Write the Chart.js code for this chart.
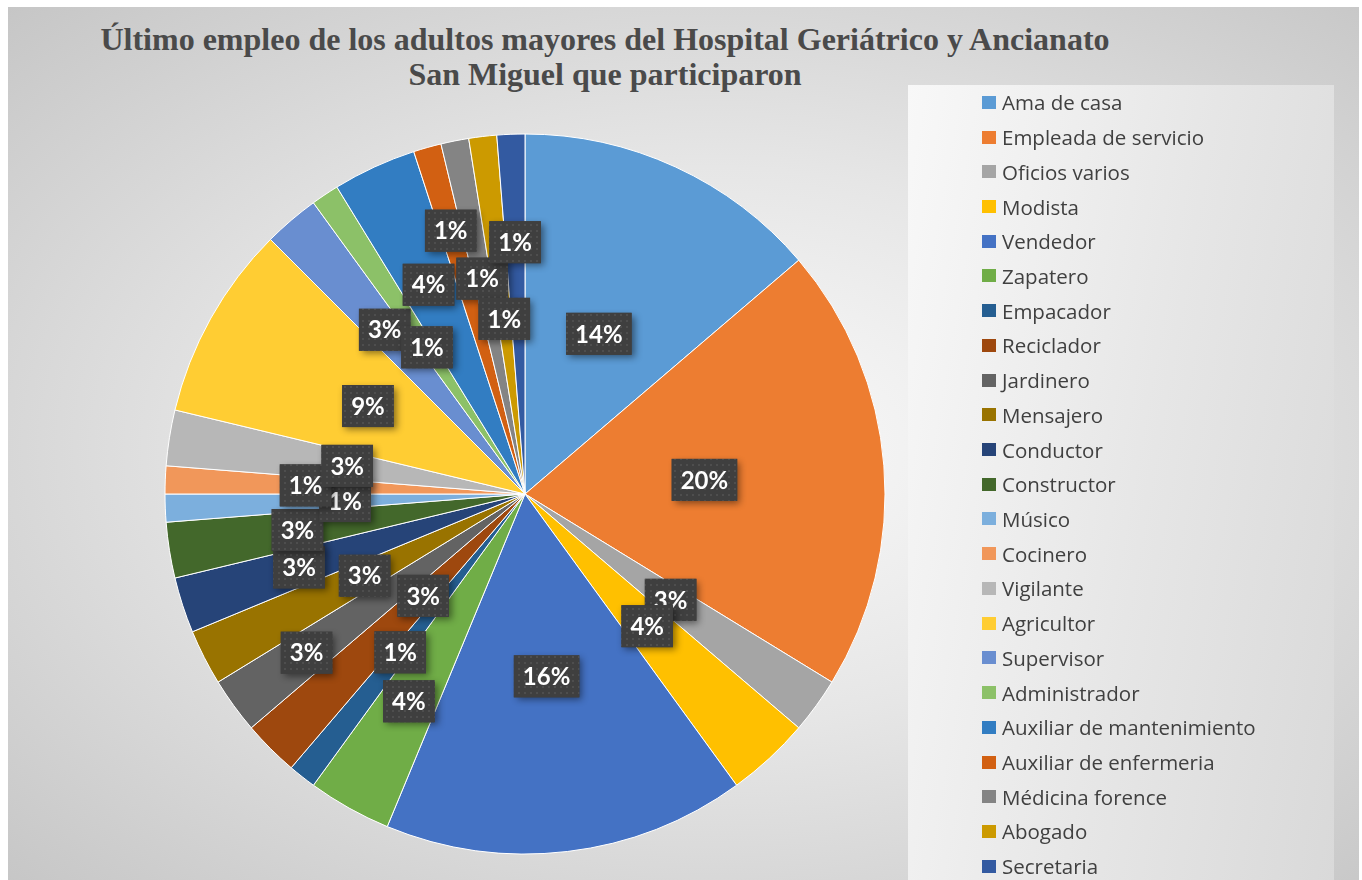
<!DOCTYPE html>
<html lang="es">
<head>
    <meta charset="UTF-8">
    <title>Último empleo de los adultos mayores</title>
    <script src="https://cdn.jsdelivr.net/npm/chart.js"></script>
    <style>
        html, body { margin: 0; padding: 0; background: #fff; }
        #wrap { position: relative; width: 1362px; height: 880px; overflow: hidden; }
        /* fondo gris con degradado radial */
        #fondo {
            position: absolute; left: 8px; top: 7px; width: 1351px; height: 880px;
            background: radial-gradient(farthest-corner at 52% 50%, #fbfbfb 0%, #e6e6e6 45%, #c6c6c6 100%);
        }
        #cajaLeyenda {
            position: absolute; left: 908px; top: 85px; width: 426px; height: 800px;
            background: linear-gradient(100deg, #f8f8f8 0%, #e6e6e6 55%, #d9d9d9 100%);
        }
        #titulo {
            position: absolute; left: 0; top: 22px; width: 1210px; text-align: center;
            font-family: "Liberation Serif", serif; font-weight: bold; font-size: 32px;
            line-height: 35px; color: #4a4a4a;
        }
        #leyenda { position: absolute; left: 982px; top: 85px; }
        #leyenda div {
            height: 34.73px; display: flex; align-items: center;
            font-family: "Open Sans", sans-serif; font-size: 20.5px; color: #404040; white-space: nowrap;
        }
        #leyenda span.c { display: inline-block; width: 14px; height: 13px; margin-right: 6px; }
        canvas { position: absolute; left: 0; top: 0; }
    </style>
</head>
<body>
<div id="wrap">
    <div id="fondo"></div>
    <div id="cajaLeyenda"></div>
    <div id="titulo">Último empleo de los adultos mayores del Hospital Geriátrico y Ancianato<br>San Miguel que participaron</div>
    <canvas id="grafica" width="1362" height="880"></canvas>
    <div id="leyenda"></div>
</div>
<script>
    // categorias (ocupacion)
    const categorias = [
        'Ama de casa', 'Empleada de servicio', 'Oficios varios', 'Modista', 'Vendedor',
        'Zapatero', 'Empacador', 'Reciclador', 'Jardinero', 'Mensajero', 'Conductor',
        'Constructor', 'Músico', 'Cocinero', 'Vigilante', 'Agricultor', 'Supervisor',
        'Administrador', 'Auxiliar de mantenimiento', 'Auxiliar de enfermeria',
        'Médicina forence', 'Abogado', 'Secretaria'
    ];
    // numero de adultos por ocupacion (total 80)
    const cantidades = [11, 16, 2, 3, 13, 3, 1, 2, 2, 2, 2, 2, 1, 1, 2, 7, 2, 1, 3, 1, 1, 1, 1];

    const colores = [
        '#5B9BD5', '#ED7D31', '#A5A5A5', '#FFC000', '#4472C4', '#70AD47', '#255E91',
        '#9E480E', '#636363', '#997300', '#264478', '#43682B', '#7CAFDD', '#F1975A',
        '#B7B7B7', '#FFCD33', '#698ED0', '#8CC168', '#327DC2', '#D26012', '#848484',
        '#CC9A00', '#335AA1'
    ];
    // distancia de cada etiqueta al centro (fraccion del radio)
    const radioEtiqueta = [
        0.49, 0.50, 0.50, 0.50, 0.51, 0.66, 0.56, 0.40, 0.75, 0.50, 0.66, 0.64,
        0.50, 0.61, 0.50, 0.50, 0.60, 0.49, 0.64, 0.76, 0.61, 0.49, 0.70
    ];

    // leyenda en html
    const leyenda = document.getElementById('leyenda');
    categorias.forEach((c, i) => {
        const d = document.createElement('div');
        d.innerHTML = '<span class="c" style="background:' + colores[i] + '"></span>' + c;
        leyenda.appendChild(d);
    });

    // patron punteado para las cajas de las etiquetas
    function hacerPatron(ctx) {
        const p = document.createElement('canvas');
        p.width = 6; p.height = 6;
        const pc = p.getContext('2d');
        pc.fillStyle = '#3f3f3f';
        pc.fillRect(0, 0, 6, 6);
        pc.fillStyle = '#4e4e4e';
        pc.fillRect(2, 2, 2, 2);
        return ctx.createPattern(p, 'repeat');
    }

    const etiquetas = {
        id: 'etiquetas',
        afterDatasetsDraw(chart) {
            const ctx = chart.ctx;
            const meta = chart.getDatasetMeta(0);
            const datos = chart.data.datasets[0].data;
            const total = datos.reduce((a, b) => a + b, 0);
            const patron = hacerPatron(ctx);
            ctx.save();
            ctx.font = 'bold 24px Lato';
            ctx.textAlign = 'center';
            ctx.textBaseline = 'middle';
            meta.data.forEach((arc, i) => {
                const p = arc.getProps(['x', 'y', 'startAngle', 'endAngle', 'outerRadius'], true);
                const medio = (p.startAngle + p.endAngle) / 2;
                const r = p.outerRadius * radioEtiqueta[i];
                const x = p.x + Math.cos(medio) * r;
                const y = p.y + Math.sin(medio) * r;
                const txt = Math.round(datos[i] / total * 100) + '%';
                const w = ctx.measureText(txt).width + 18;
                const h = 42;
                ctx.shadowColor = 'rgba(0,0,0,0.45)';
                ctx.shadowBlur = 7;
                ctx.shadowOffsetX = 3;
                ctx.shadowOffsetY = 3;
                ctx.fillStyle = '#404040';
                ctx.fillRect(x - w / 2, y - h / 2, w, h);
                ctx.shadowColor = 'transparent';
                ctx.fillStyle = patron;
                ctx.fillRect(x - w / 2, y - h / 2, w, h);
                ctx.fillStyle = '#ffffff';
                ctx.fillText(txt, x, y + 1);
            });
            ctx.restore();
        }
    };

    new Chart(document.getElementById('grafica'), {
        type: 'pie',
        data: {
            labels: categorias,
            datasets: [{
                data: cantidades,
                backgroundColor: colores,
                borderColor: '#ffffff',
                borderWidth: 1
            }]
        },
        options: {
            responsive: false,
            animation: false,
            radius: 360,
            layout: { padding: { left: 165, right: 477, top: 134, bottom: 26 } },
            plugins: {
                legend: { display: false },
                title: { display: false },
                tooltip: { enabled: false }
            },
            events: []
        },
        plugins: [etiquetas]
    });
</script>
</body>
</html>
